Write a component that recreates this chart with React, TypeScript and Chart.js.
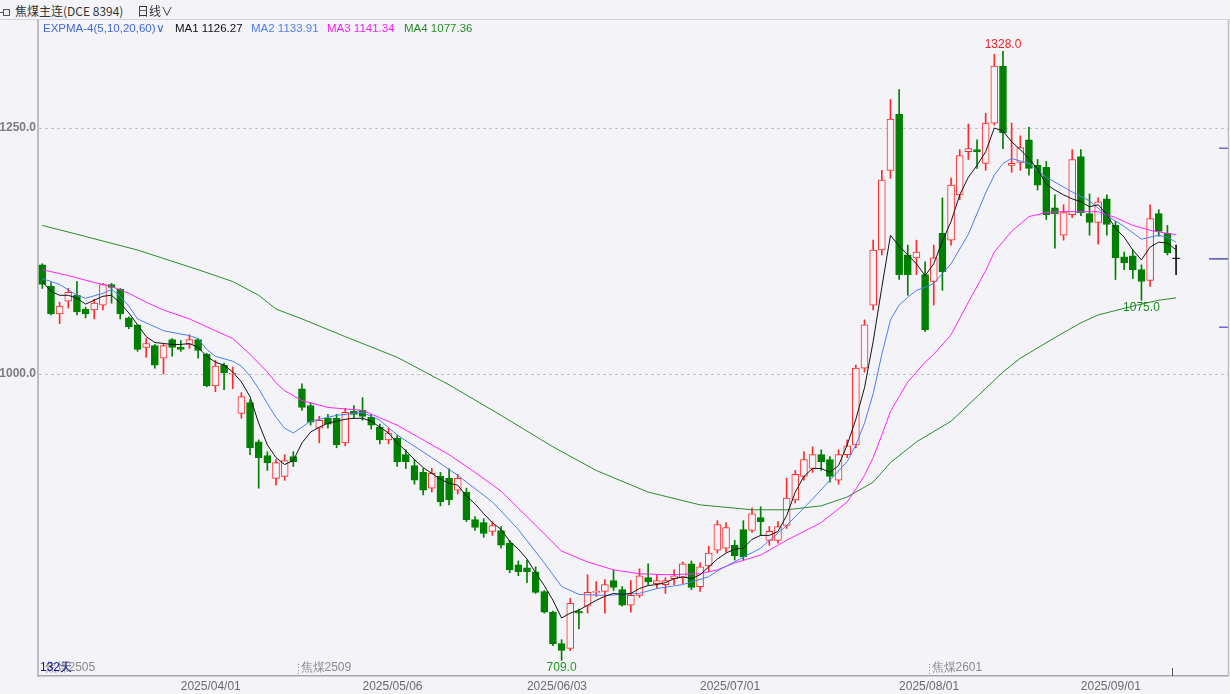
import React, { useEffect, useRef } from 'react';
import { Chart, registerables } from 'chart.js';
Chart.register(...registerables);

const BG = '#f4f4f8';
const UP = '#ff2a2a';
const DOWN = '#008000';
const FLAT = '#111111';

// OHLC per trading day (index 0 = 2025/03/05 ... index 131 = latest)
const opens = [1111,1089,1061,1074,1080,1066,1065,1070,1091,1086,1057,1050,1027,1029,1016,1035,1027,1030,1035,1020,988,1009,1000,960,971,931,917,894,896,916,985,968,945,955,955,930,962,963,956,946,933,935,918,907,900,884,896,894,882,880,852,849,840,841,828,806,803,799,779,758,726,721,759,764,778,779,790,781,765,775,793,787,786,792,793,807,784,805,821,823,826,842,841,854,831,831,846,872,896,904,918,913,892,918,928,1006,1070,1126,1207,1264,1121,1118,1101,1094,1143,1136,1182,1226,1228,1214,1255,1313,1212,1215,1238,1212,1210,1169,1141,1162,1221,1163,1154,1178,1151,1119,1120,1106,1095,1163,1143,1117];
const highs = [1112,1093,1073,1087,1094,1068,1076,1092,1092,1087,1058,1050,1036,1030,1031,1036,1034,1040,1036,1021,1014,1011,1007,981,974,933,921,913,918,921,990,971,957,959,959,965,968,976,959,949,945,938,923,913,904,904,900,904,898,884,855,853,850,845,831,810,811,804,780,759,730,772,761,796,789,791,801,784,790,802,807,796,793,801,809,810,808,825,851,849,831,851,864,865,845,850,894,902,921,926,923,916,923,933,1009,1055,1136,1207,1279,1289,1131,1136,1114,1131,1179,1199,1228,1254,1238,1265,1325,1328,1255,1242,1251,1218,1216,1182,1172,1228,1228,1183,1179,1182,1155,1124,1126,1111,1172,1167,1151,1131];
const lows = [1087,1060,1051,1067,1060,1057,1056,1065,1072,1056,1046,1023,1017,1006,1000,1018,1023,1026,1016,987,982,984,985,955,918,884,902,887,892,906,963,948,930,945,925,927,955,953,944,929,929,906,904,888,877,880,866,867,878,850,841,834,836,823,798,795,788,777,757,724,709,719,741,757,774,757,780,764,758,773,786,782,777,786,787,781,779,799,818,819,811,811,839,836,826,828,843,869,892,900,902,890,888,915,925,1002,1065,1121,1199,1096,1080,1101,1043,1070,1085,1131,1177,1218,1209,1207,1253,1229,1205,1207,1202,1187,1157,1128,1136,1159,1161,1141,1132,1141,1096,1106,1097,1075,1089,1140,1121,1101];
const closes = [1091,1061,1069,1083,1063,1061,1072,1091,1088,1061,1048,1025,1031,1009,1029,1027,1025,1035,1024,988,1008,1001,1001,977,925,915,910,910,912,911,966,951,953,949,928,961,959,957,948,933,940,911,911,892,882,899,870,872,894,852,844,838,846,826,801,799,799,778,758,726,719,767,757,778,779,786,783,765,775,795,789,790,790,795,807,783,804,818,847,844,815,814,858,850,840,845,874,898,913,918,911,896,918,927,1006,1050,1126,1197,1259,1101,1101,1124,1045,1118,1104,1192,1222,1229,1226,1255,1313,1245,1214,1230,1209,1192,1162,1163,1164,1218,1164,1154,1175,1152,1118,1113,1106,1094,1158,1145,1123,1117];

// EXPMA lines: [day index, value]
const ma1: [number, number][] = [[0,1094],[1,1084],[2,1080],[3,1080],[4,1077],[5,1071],[6,1075],[7,1079],[8,1080],[9,1072],[10,1062],[11,1050],[12,1038],[13,1032],[14,1031],[15,1030],[16,1030],[17,1031],[18,1027],[19,1018],[20,1012],[21,1009],[22,1002],[23,992],[24,977],[25,950],[26,928],[27,915],[28,908],[29,912],[30,930],[31,941],[32,946],[33,950],[34,952],[35,954],[36,955],[37,955],[38,952],[39,946],[40,940],[41,930],[42,922],[43,913],[44,905],[45,899],[46,893],[47,889],[48,887],[49,876],[50,868],[51,858],[52,849],[53,842],[54,830],[55,822],[56,812],[57,798],[58,785],[59,770],[60,752],[61,757],[62,760],[63,765],[64,770],[65,774],[66,777],[67,776],[68,777],[69,782],[70,785],[71,786],[72,788],[73,792],[74,794],[75,792],[76,796],[77,804],[78,812],[79,818],[80,822],[81,823],[82,832],[83,836],[84,836],[85,840],[86,856],[87,880],[88,896],[89,904],[90,904],[91,900],[92,907],[93,928],[94,954],[95,986],[96,1033],[97,1088],[98,1141],[99,1130],[100,1121],[101,1112],[102,1100],[103,1112],[104,1135],[105,1155],[106,1182],[107,1200],[108,1212],[109,1226],[110,1250],[111,1247],[112,1236],[113,1228],[114,1219],[115,1208],[116,1193],[117,1187],[118,1182],[119,1178],[120,1175],[121,1170],[122,1172],[123,1162],[124,1148],[125,1139],[126,1126],[127,1116],[128,1129],[129,1134],[130,1133],[131,1126.27]];
const ma2: [number, number][] = [[0,1097],[2,1091],[4,1080],[5,1077],[7,1082],[8,1086],[9,1079],[10,1069],[11,1056],[14,1044],[17,1039],[18,1036],[19,1025],[20,1018],[22,1013],[23,1008],[24,998],[25,985],[26,970],[27,956],[28,945],[29,940],[30,946],[31,952],[34,958],[37,961],[39,953],[41,938],[45,915],[48,897],[52,870],[55,842],[58,808],[60,784],[62,776],[65,775],[69,777],[71,782],[74,786],[77,794],[78,800],[83,823],[86,846],[89,873],[91,892],[93,911],[94,928],[95,950],[96,980],[97,1020],[98,1055],[99,1070],[100,1078],[101,1085],[102,1088],[103,1092],[105,1112],[107,1142],[109,1184],[110,1202],[111,1214],[112,1219],[114,1214],[116,1200],[119,1185],[121,1176],[123,1161],[125,1150],[127,1137],[128,1139],[129,1141],[130,1139],[131,1133.91]];
const ma3: [number, number][] = [[0,1106],[3,1100],[6,1093],[8,1089],[10,1082],[12,1073],[14,1065],[17,1056],[20,1044],[22,1036],[24,1020],[26,1002],[27,991],[28,983],[30,973],[33,966],[37,963],[41,948],[44,933],[47,918],[50,900],[53,881],[56,855],[60,820],[63,809],[66,801],[69,797],[72,796],[76,797],[78,801],[80,808],[83,816],[86,831],[90,849],[93,870],[94,883],[95,897],[96,915],[97,938],[98,962],[99,977],[100,992],[102,1012],[103,1020],[105,1040],[107,1073],[109,1105],[110,1124],[112,1145],[114,1160],[116,1164],[118,1165],[122,1165],[124,1159],[126,1151],[128,1146],[131,1141.34]];
const ma4: [number, number][] = [[0,1151],[4,1142],[11,1126],[18,1106],[22,1094],[25,1080],[27,1066],[30,1056],[35,1038],[41,1017],[47,989],[53,958],[59,926],[64,902],[70,880],[76,867],[82,862],[86,862],[90,866],[93,875],[96,890],[98,910],[101,931],[105,952],[108,977],[111,1002],[113,1016],[117,1037],[120,1052],[122,1060],[126,1069],[129,1075],[131,1077.36]];

const maNames = ['MA1', 'MA2', 'MA3', 'MA4'];
const maColors = ['#141414', '#4d7ef0', '#ff22ff', '#2c8a2c'];
const maLegendColors = ['#111111', '#4f7fe8', '#ee22ee', '#2a8a2a'];

// x-axis date ticks: [day index, label]
const dateTicks: [number, string][] = [[19,'2025/04/01'],[40,'2025/05/06'],[59,'2025/06/03'],[79,'2025/07/01'],[102,'2025/08/01'],[123,'2025/09/01']];
// contract rollovers: [first day index, contract]
const contracts: [number, string][] = [[0,'焦煤2505'],[30,'焦煤2509'],[103,'焦煤2601']];
const yTicks = [1000, 1250];
const sideLevels = [1229.4, 1047.5];

const candleColor = (i: number) => (closes[i] > opens[i] ? UP : closes[i] < opens[i] ? DOWN : FLAT);

const overlay = {
  id: 'overlay',
  afterDatasetsDraw(chart: any) {
    const { ctx, chartArea: a, scales } = chart;
    const x = scales.x, y = scales.y;
    const font = '12px "Liberation Sans", Arial, sans-serif';
    ctx.save();
    // right frame line
    ctx.strokeStyle = '#bdbdc4';
    ctx.lineWidth = 1.5;
    ctx.beginPath();
    ctx.moveTo(a.right + 0.5, a.top);
    ctx.lineTo(a.right + 0.5, a.bottom);
    ctx.stroke();

    // extremes
    let hi = 0, lo = 0;
    highs.forEach((v, i) => { if (v > highs[hi]) hi = i; });
    lows.forEach((v, i) => { if (v < lows[lo]) lo = i; });
    let lo2 = hi + 1;
    for (let i = hi + 1; i < lows.length; i++) if (lows[i] < lows[lo2]) lo2 = i;
    ctx.font = font;
    ctx.textAlign = 'center';
    ctx.fillStyle = '#e8202a';
    ctx.textBaseline = 'bottom';
    ctx.fillText(highs[hi].toFixed(1), x.getPixelForValue(hi), y.getPixelForValue(highs[hi]) - 1);
    ctx.textBaseline = 'top';
    ctx.fillStyle = '#1f9a1f';
    ctx.fillText(lows[lo].toFixed(1), x.getPixelForValue(lo), y.getPixelForValue(lows[lo]) + 1);
    ctx.fillStyle = '#1c8a1c';
    ctx.fillText(lows[lo2].toFixed(1), x.getPixelForValue(lo2), y.getPixelForValue(lows[lo2]) + 1);

    // contract markers
    ctx.textAlign = 'left';
    ctx.textBaseline = 'middle';
    contracts.forEach(([idx, name]) => {
      const px = Math.round(x.getPixelForValue(idx - 0.5)) + 0.5;
      if (idx > 0) {
        ctx.strokeStyle = '#888';
        ctx.lineWidth = 1;
        ctx.setLineDash([1, 2]);
        ctx.beginPath();
        ctx.moveTo(px, a.bottom - 12);
        ctx.lineTo(px, a.bottom - 2);
        ctx.stroke();
        ctx.setLineDash([]);
      }
      ctx.fillStyle = '#8a8a8a';
      ctx.fillText(name, px + (idx > 0 ? 2 : 6), a.bottom - 8);
    });
    ctx.fillStyle = '#14149a';
    ctx.fillText(closes.length + '天', a.left + 2, a.bottom - 8);

    // current bar tick
    const last = closes.length - 1;
    const lx = Math.round(x.getPixelForValue(last - 0.5)) + 0.5;
    ctx.strokeStyle = '#555';
    ctx.lineWidth = 1;
    ctx.beginPath();
    ctx.moveTo(lx, a.bottom - 8);
    ctx.lineTo(lx, a.bottom);
    ctx.stroke();

    // right side level marks
    ctx.lineWidth = 1.5;
    ctx.strokeStyle = '#6a6ad2';
    sideLevels.forEach((v) => {
      const py = y.getPixelForValue(v);
      ctx.beginPath();
      ctx.moveTo(a.right - 9, py);
      ctx.lineTo(a.right, py);
      ctx.stroke();
    });
    ctx.strokeStyle = '#5050b4';
    const cy = y.getPixelForValue(closes[last]);
    ctx.beginPath();
    ctx.moveTo(a.right - 19, cy);
    ctx.lineTo(a.right, cy);
    ctx.stroke();
    ctx.restore();
  },
};

export default function App() {
  const ref = useRef<HTMLCanvasElement>(null);
  useEffect(() => {
    document.body.style.margin = '0';
    document.body.style.background = BG;
    const idx = closes.map((_, i) => i);
    const lines = [ma1, ma2, ma3, ma4].map((pts, k) => ({
      type: 'line' as const,
      label: maNames[k],
      data: pts.map(([i, v]) => ({ x: i, y: v })),
      borderColor: maColors[k],
      borderWidth: 1,
      pointRadius: 0,
      tension: 0,
      order: 1,
    }));
    const chart = new Chart(ref.current as HTMLCanvasElement, {
      type: 'bar',
      data: {
        datasets: [
          ...lines,
          {
            type: 'bar',
            label: 'body',
            data: idx.map((i) => ({ x: i, y: [opens[i], closes[i]] })),
            backgroundColor: idx.map((i) => (closes[i] > opens[i] ? BG : candleColor(i))),
            borderColor: idx.map(candleColor),
            borderWidth: 1,
            borderSkipped: false,
            barThickness: 7,
            minBarLength: 1,
            grouped: false,
            order: 2,
          },
          {
            type: 'bar',
            label: 'wick',
            data: idx.map((i) => ({ x: i, y: [lows[i], highs[i]] })),
            backgroundColor: idx.map(candleColor),
            borderWidth: 0,
            barThickness: 1,
            grouped: false,
            order: 3,
          },
        ] as any,
      },
      options: {
        animation: false,
        responsive: false,
        layout: { padding: { top: 20, right: 2, left: 0, bottom: 0 } },
        plugins: { legend: { display: false }, tooltip: { enabled: false } },
        scales: {
          x: {
            type: 'linear',
            min: -0.5,
            max: 137,
            offset: false,
            grid: { display: false, drawTicks: false },
            border: { color: '#a6a6ac', width: 1.5 },
            afterBuildTicks: (s: any) => {
              s.ticks = dateTicks.map(([v]) => ({ value: v }));
            },
            afterFit: (s: any) => {
              s.height = 18;
            },
            ticks: {
              autoSkip: false,
              maxRotation: 0,
              labelOffset: 4,
              padding: 3,
              color: '#6a6a6a',
              font: { size: 12, family: '"Liberation Sans", Arial, sans-serif' },
              callback: (v: any) => {
                const t = dateTicks.find(([i]) => i === v);
                return t ? t[1] : '';
              },
            },
          },
          y: {
            min: 693.09,
            max: 1359.76,
            afterBuildTicks: (s: any) => {
              s.ticks = yTicks.map((v) => ({ value: v }));
            },
            afterFit: (s: any) => {
              s.width = 38;
            },
            grid: { color: '#c2c2c8', drawTicks: false },
            border: { color: '#bcbcc2', width: 2, dash: [3, 3] },
            ticks: {
              padding: 2,
              color: '#7c7c80',
              font: { size: 12, weight: 'bold', family: '"Liberation Sans", Arial, sans-serif' },
              callback: (v: any) => Number(v).toFixed(1),
            },
          },
        },
      } as any,
      plugins: [overlay],
    });
    return () => chart.destroy();
  }, []);

  const lastVals = [ma1, ma2, ma3, ma4].map((p) => p[p.length - 1][1].toFixed(2));
  const legendX = [175, 251, 327, 404];
  const txt: React.CSSProperties = {
    position: 'absolute',
    whiteSpace: 'nowrap',
    fontFamily: '"Liberation Sans", Arial, sans-serif',
    fontSize: 11.5,
    lineHeight: '14px',
  };
  return (
    <div style={{ position: 'fixed', left: 0, top: 0, width: 1230, height: 694, background: BG, overflow: 'hidden' }}>
      <canvas ref={ref} width={1230} height={694} style={{ position: 'absolute', left: 0, top: 0 }} />
      <div
        style={{
          position: 'absolute',
          left: 0,
          top: 0,
          width: 1230,
          height: 20,
          borderBottom: '1px solid #d2d2d8',
          boxSizing: 'border-box',
          background: BG,
        }}
      >
        <svg width={12} height={20} style={{ position: 'absolute', left: 0, top: 0 }}>
          <line x1={0} y1={12.5} x2={3} y2={12.5} stroke="#555" strokeWidth={1} />
          <rect x={3.5} y={9.5} width={6} height={6} fill="none" stroke="#555" strokeWidth={1} />
        </svg>
        <span style={{ ...txt, left: 15, top: 4, fontSize: 12, color: '#333', fontFamily: '"Noto Sans CJK SC", sans-serif', lineHeight: '14px' }}>
          焦煤主连(DCE 8394)
        </span>
        <span style={{ ...txt, left: 137, top: 4, fontSize: 12, color: '#333', fontFamily: '"Noto Sans CJK SC", sans-serif', lineHeight: '14px' }}>
          日线∨
        </span>
      </div>
      <span style={{ ...txt, left: 43, top: 21, color: '#4168d8' }}>EXPMA-4(5,10,20,60)∨</span>
      {maNames.map((n, k) => (
        <span key={n} style={{ ...txt, left: legendX[k], top: 21, color: maLegendColors[k] }}>
          {n} {lastVals[k]}
        </span>
      ))}
    </div>
  );
}
